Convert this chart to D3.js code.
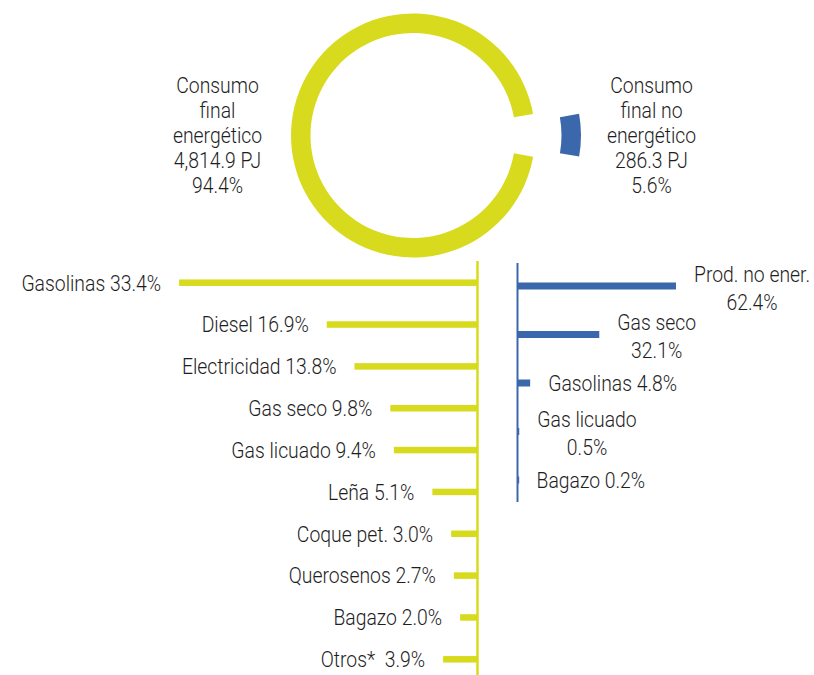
<!DOCTYPE html>
<html>
<head>
<meta charset="utf-8">
<script src="https://cdn.jsdelivr.net/npm/d3@7"></script>
<style>
  html, body { margin: 0; padding: 0; background: #fff; }
  svg text { font-family: Roboto, "Liberation Sans", sans-serif; font-weight: 300; fill: #1e1e1e; font-size: 22px; }
</style>
</head>
<body>
<svg id="chart" width="814" height="675"></svg>
<script>
// Energy consumption split (PJ)
const totalNames = ["Consumo final energético", "Consumo final no energético"];
const totalPJ = [4814.9, 286.3];
const totalPct = [94.4, 5.6];

// Final energy consumption by fuel (%)
const energyFuels = ["Gasolinas", "Diesel", "Electricidad", "Gas seco", "Gas licuado", "Leña", "Coque pet.", "Querosenos", "Bagazo", "Otros*"];
const energyPct = [33.4, 16.9, 13.8, 9.8, 9.4, 5.1, 3.0, 2.7, 2.0, 3.9];

// Non-energy consumption by product (%)
const nonEnergyFuels = ["Prod. no ener.", "Gas seco", "Gasolinas", "Gas licuado", "Bagazo"];
const nonEnergyPct = [62.4, 32.1, 4.8, 0.5, 0.2];

const YELLOW = "#d8db1d";
const BLUE = "#3b68ad";
const SX = 0.88; // horizontal condensing of the label face

const svg = d3.select("#chart");

// condensed text helper: positions a text at (x, y) and narrows it horizontally
function label(parent, x, y, str, anchor) {
  const g = parent.append("g").attr("transform", `translate(${x},${y}) scale(${SX},1)`);
  return g.append("text").attr("text-anchor", anchor || "start").attr("xml:space", "preserve").text(str);
}
function textWidth(parent, str) {
  const t = parent.append("text").text(str);
  const w = t.node().getComputedTextLength() * SX;
  t.remove();
  return w;
}

// ---- Donut ----
const cx = 413, cy = 135.5;
const pie = d3.pie().sort(null)
  .startAngle(100 * Math.PI / 180)
  .endAngle(100 * Math.PI / 180 + 2 * Math.PI);
const arc = d3.arc().innerRadius(102.5).outerRadius(122);
const arcs = pie(totalPJ);
const donut = svg.append("g").attr("transform", `translate(${cx},${cy})`);
donut.selectAll("path").data(arcs).join("path")
  .attr("d", arc)
  .attr("fill", (d, i) => i === 0 ? YELLOW : BLUE)
  .attr("transform", (d, i) => {
    if (i === 0) return null;
    const mid = (d.startAngle + d.endAngle) / 2;
    const off = 46;
    return `translate(${off * Math.sin(mid)},${-off * Math.cos(mid)})`;
  });

const fmtPJ = d3.format(",.1f");
const donutLabels = [
  { x: 217.5, lines: ["Consumo", "final", "energético", fmtPJ(totalPJ[0]) + " PJ", totalPct[0].toFixed(1) + "%"] },
  { x: 651.5, lines: ["Consumo", "final no", "energético", fmtPJ(totalPJ[1]) + " PJ", totalPct[1].toFixed(1) + "%"] }
];
donutLabels.forEach(l => {
  l.lines.forEach((s, k) => label(svg, l.x, 92.5 + k * 25, s, "middle"));
});

// ---- Left bars: final energy consumption ----
const yL = d3.scalePoint().domain(energyFuels).range([282.7, 659.3]);
const xL = d3.scaleLinear().domain([0, 100]).range([478, 478 - 895]);
const gL = svg.append("g");
gL.selectAll("rect").data(energyFuels).join("rect")
  .attr("x", (d, i) => xL(energyPct[i]))
  .attr("y", d => yL(d) - 3.25)
  .attr("width", (d, i) => xL(0) - xL(energyPct[i]))
  .attr("height", 6.5)
  .attr("fill", YELLOW);
gL.append("line")
  .attr("x1", 477.5).attr("x2", 477.5)
  .attr("y1", 261).attr("y2", 675)
  .attr("stroke", YELLOW).attr("stroke-width", 2.5);
energyFuels.forEach((d, i) => {
  const str = (d === "Otros*" ? d + "  " : d + " ") + energyPct[i].toFixed(1) + "%";
  label(gL, xL(energyPct[i]) - 18, yL(d) + 7.8, str, "end");
});

// ---- Right bars: non-energy consumption ----
const yR = d3.scalePoint().domain(nonEnergyFuels).range([286, 480]);
const xR = d3.scaleLinear().domain([0, 100]).range([518, 518 + 253.2]);
const wrapped = new Set(["Prod. no ener.", "Gas seco", "Gas licuado"]);
const gR = svg.append("g");
gR.selectAll("rect").data(nonEnergyFuels).join("rect")
  .attr("x", xR(0))
  .attr("y", d => yR(d) - 3.5)
  .attr("width", (d, i) => Math.max(1.2, xR(nonEnergyPct[i]) - xR(0)))
  .attr("height", 7)
  .attr("fill", BLUE);
gR.append("line")
  .attr("x1", 517.5).attr("x2", 517.5)
  .attr("y1", 263).attr("y2", 502)
  .attr("stroke", BLUE).attr("stroke-width", 2);

nonEnergyFuels.forEach((d, i) => {
  const left = xR(nonEnergyPct[i]) + 18;
  const pct = nonEnergyPct[i].toFixed(1) + "%";
  const y0 = yR(d);
  if (wrapped.has(d)) {
    const w = Math.max(textWidth(gR, d), textWidth(gR, pct));
    const mid = left + w / 2;
    label(gR, mid, y0 - 4.5, d, "middle");
    label(gR, mid, y0 + 23.5, pct, "middle");
  } else {
    label(gR, left, y0 + 7.8, d + " " + pct, "start");
  }
});
</script>
</body>
</html>
